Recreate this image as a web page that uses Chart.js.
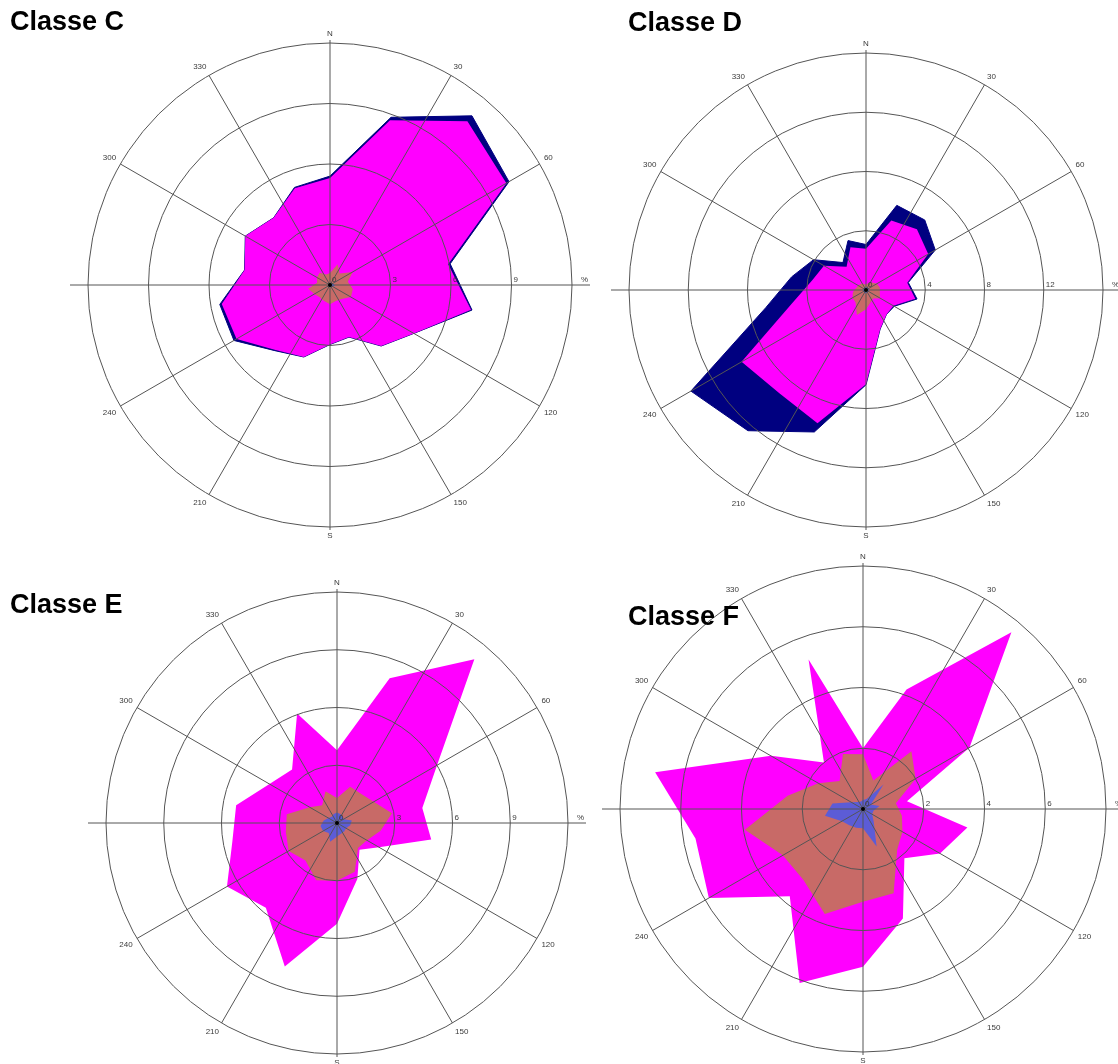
<!DOCTYPE html>
<html>
<head>
<meta charset="utf-8">
<script src="https://cdn.jsdelivr.net/npm/chart.js@4.4.1/dist/chart.umd.min.js"></script>
<style>
html,body{margin:0;padding:0;background:#fff;}
body{width:1118px;height:1064px;overflow:hidden;position:relative;}
canvas{position:absolute;}
.title{position:absolute;font-family:'Liberation Sans',Arial,sans-serif;font-weight:bold;font-size:27px;line-height:27px;color:#000;z-index:5;white-space:nowrap;}
</style>
</head>
<body>
<div class="title" style="left:10px;top:8px">Classe C</div>
<div class="title" style="left:628px;top:9px">Classe D</div>
<div class="title" style="left:10px;top:591px">Classe E</div>
<div class="title" style="left:628px;top:603px">Classe F</div>
<canvas id="roseC"></canvas>
<canvas id="roseD"></canvas>
<canvas id="roseE"></canvas>
<canvas id="roseF"></canvas>
<script>
// ---------- categories (wind direction, degrees) ----------
const categories10 = [0,10,20,30,40,50,60,70,80,90,100,110,120,130,140,150,160,170,
                      180,190,200,210,220,230,240,250,260,270,280,290,300,310,320,330,340,350];
const directions20 = [0,20,40,60,80,100,120,140,160,180,200,220,240,260,280,300,320,340];
const spokeAngles  = [0,30,60,90,120,150,180,210,240,270,300,330];
const spokeLabels  = ['N','30','60','','120','150','S','210','240','','300','330'];

// ---------- Classe C (%, one value per 20° direction) ----------
const totalC   = [5.4, 8.85, 10.95, 10.25, 6.05, 7.15, 4.8, 3.95, 2.75, 2.95, 3.8, 4.25, 5.5, 5.55, 4.3, 4.85, 4.35, 5.15];
const magentaC = [5.3, 8.7, 10.6, 10.1, 5.95, 7.1, 4.8, 3.95, 2.75, 2.95, 3.8, 4.2, 5.35, 5.45, 4.3, 4.85, 4.35, 5.1];
const brownC   = [0.6, 1.1, 0.75, 1.3, 0.9, 1.15, 1.2, 0.9, 0.85, 0.95, 0.85, 0.8, 0.9, 1.1, 0.65, 0.75, 0.8, 0.55];
const blueC    = [0.1, 0.1, 0.1, 0.15, 0.2, 0.25, 0.15, 0.1, 0.1, 0.1, 0.1, 0.1, 0.1, 0.1, 0.1, 0.1, 0.1, 0.1];
const tickValuesC = [0,3,6,9,12];
const tickLabelsC = ['0','3','6','9','%'];

// ---------- Classe D ----------
const totalD   = [3.07, 6.08, 6.17, 5.4, 2.9, 3.5, 2.2, 2.15, 2.8, 6.4, 10.2, 12.4, 13.65, 6.87, 5.1, 4.09, 2.42, 3.55];
const magentaD = [2.78, 5.0, 5.35, 4.85, 2.83, 3.38, 2.14, 2.15, 2.8, 6.37, 9.58, 9.1, 9.7, 5.05, 3.7, 3.28, 2.04, 3.07];
const brownD   = [0.35, 0.5, 0.65, 0.85, 0.95, 0.95, 1.1, 0.75, 0.9, 1.3, 1.8, 1.1, 1.05, 0.9, 0.7, 0.6, 0.55, 0.45];
const blueD    = [0.2, 0.2, 0.2, 0.2, 0.2, 0.2, 0.2, 0.2, 0.2, 0.2, 0.25, 0.2, 0.2, 0.2, 0.2, 0.2, 0.2, 0.2];
const tickValuesD = [0,4,8,12,16];
const tickLabelsD = ['0','4','8','12','%'];

// ---------- Classe E ----------
const magentaE = [3.78, 8.0, 11.1, 6.0, 4.5, 4.97, 2.52, 1.82, 3.09, 5.24, 7.93, 5.75, 6.6, 5.52, 5.32, 4.05, 3.63, 6.06];
const brownE   = [1.3, 2.0, 1.97, 2.2, 2.9, 2.3, 1.8, 1.7, 2.7, 3.0, 3.16, 2.55, 2.9, 2.7, 2.65, 1.64, 1.2, 1.75];
const blueE    = [0.55, 0.5, 0.45, 0.4, 0.78, 0.7, 0.54, 0.58, 0.6, 0.7, 1.04, 0.67, 0.84, 0.87, 0.71, 0.52, 0.42, 0.5];
const tickValuesE = [0,3,6,9,12];
const tickLabelsE = ['0','3','6','9','%'];

// ---------- Classe F ----------
const magentaF = [2.0, 4.19, 7.6, 4.05, 1.47, 3.49, 2.93, 2.12, 3.84, 5.19, 6.1, 3.75, 5.86, 5.6, 6.95, 3.5, 2.0, 5.24];
const brownF   = [1.8, 1.0, 2.48, 2.0, 1.1, 1.3, 1.5, 1.75, 2.95, 3.05, 3.68, 3.05, 3.05, 3.95, 2.52, 1.7, 1.2, 1.93];
const blueF    = [0.3, 0.35, 1.05, 0.3, 0.55, 0.35, 0.35, 0.55, 1.31, 0.63, 0.66, 0.7, 0.8, 1.27, 1.02, 0.45, 0.3, 0.25];
const tickValuesF = [0,2,4,6,8];
const tickLabelsF = ['0','2','4','6','%'];

// ---------- styles & layout ----------
const COLORS = {total:'#000080', magenta:'#FF00FF', brown:'#C86A67', blue:'#5C5CD6'};
const GRID_COLOR = '#555555';
const LABEL_COLOR = '#3a3a3a';
const LABEL_FONT = "8px 'Liberation Sans Narrow','Liberation Sans',Arial,sans-serif";
const PAD = 40;
const layout = {
  C:{cx:330, cy:285, R:242},
  D:{cx:866, cy:290, R:237},
  E:{cx:337, cy:823, R:231},
  F:{cx:863, cy:809, R:243}
};

function toSeries(values){
  return categories10.map(a => {
    const k = directions20.indexOf(a);
    return k >= 0 ? values[k] : null;
  });
}

const roseDecor = {
  id:'roseDecor',
  afterDraw(chart, args, opts){
    const s = chart.scales.r, ctx = chart.ctx;
    const cx = s.xCenter, cy = s.yCenter, R = s.drawingArea;
    ctx.save();
    ctx.strokeStyle = GRID_COLOR; ctx.lineWidth = 1;
    ctx.beginPath();
    ctx.moveTo(cx - R - 18, cy); ctx.lineTo(cx - R, cy);
    ctx.moveTo(cx + R, cy); ctx.lineTo(cx + R + 18, cy);
    ctx.moveTo(cx, cy - R - 3); ctx.lineTo(cx, cy - R);
    ctx.moveTo(cx, cy + R); ctx.lineTo(cx, cy + R + 3);
    ctx.stroke();
    ctx.fillStyle = '#000';
    ctx.beginPath(); ctx.arc(cx, cy, 2, 0, Math.PI*2); ctx.fill();
    ctx.font = LABEL_FONT; ctx.fillStyle = LABEL_COLOR;
    ctx.textAlign = 'left'; ctx.textBaseline = 'alphabetic';
    opts.tickValues.forEach((v,k) => {
      const d = s.getDistanceFromCenterForValue(v);
      const x = (v === s.max) ? cx + d + 9 : cx + d + 2;
      ctx.fillText(opts.tickLabels[k], x, cy - 3);
    });
    spokeAngles.forEach((a,k) => {
      const txt = spokeLabels[k];
      if (!txt) return;
      const idx = categories10.indexOf(a);
      const p = s.getPointPosition(idx, R + 5);
      ctx.textAlign = (a === 0 || a === 180) ? 'center' : (a < 180 ? 'left' : 'right');
      ctx.textBaseline = (a === 90 || a === 270) ? 'middle' : ((a < 90 || a > 270) ? 'bottom' : 'top');
      ctx.fillText(txt, p.x, p.y);
    });
    ctx.restore();
  }
};

function ds(values, color, border){
  return {
    data: toSeries(values),
    backgroundColor: color,
    borderColor: color,
    borderWidth: border ? 1 : 0,
    fill: 'origin',
    pointRadius: 0,
    pointHoverRadius: 0,
    spanGaps: true,
    tension: 0
  };
}

function makeRose(id, key, series, tickValues, tickLabels){
  const L = layout[key];
  const size = 2 * (L.R + PAD);
  const cv = document.getElementById(id);
  cv.width = size; cv.height = size;
  cv.style.left = (L.cx - L.R - PAD) + 'px';
  cv.style.top = (L.cy - L.R - PAD) + 'px';
  cv.style.width = size + 'px'; cv.style.height = size + 'px';
  const datasets = [];
  datasets.push(ds(series.blue, COLORS.blue, false));
  datasets.push(ds(series.brown, COLORS.brown, false));
  datasets.push(ds(series.magenta, COLORS.magenta, false));
  if (series.total) datasets.push(ds(series.total, COLORS.total, true));
  new Chart(cv.getContext('2d'), {
    type:'radar',
    data:{ labels: categories10.map(String), datasets },
    plugins:[roseDecor],
    options:{
      responsive:false,
      animation:false,
      events:[],
      layout:{ padding: PAD },
      plugins:{
        legend:{display:false},
        tooltip:{enabled:false},
        roseDecor:{ tickValues, tickLabels }
      },
      scales:{
        r:{
          min: tickValues[0],
          max: tickValues[tickValues.length-1],
          startAngle: 0,
          ticks:{ display:false, stepSize: tickValues[1]-tickValues[0] },
          pointLabels:{ display:false },
          grid:{ circular:true, color:GRID_COLOR, lineWidth:1, z:1 },
          angleLines:{
            display:true,
            color:GRID_COLOR,
            lineWidth: c => (categories10[c.index] % 30 === 0 ? 1 : 0)
          }
        }
      }
    }
  });
}

makeRose('roseC','C',{total:totalC, magenta:magentaC, brown:brownC, blue:blueC}, tickValuesC, tickLabelsC);
makeRose('roseD','D',{total:totalD, magenta:magentaD, brown:brownD, blue:blueD}, tickValuesD, tickLabelsD);
makeRose('roseE','E',{magenta:magentaE, brown:brownE, blue:blueE}, tickValuesE, tickLabelsE);
makeRose('roseF','F',{magenta:magentaF, brown:brownF, blue:blueF}, tickValuesF, tickLabelsF);
</script>
</body>
</html>
